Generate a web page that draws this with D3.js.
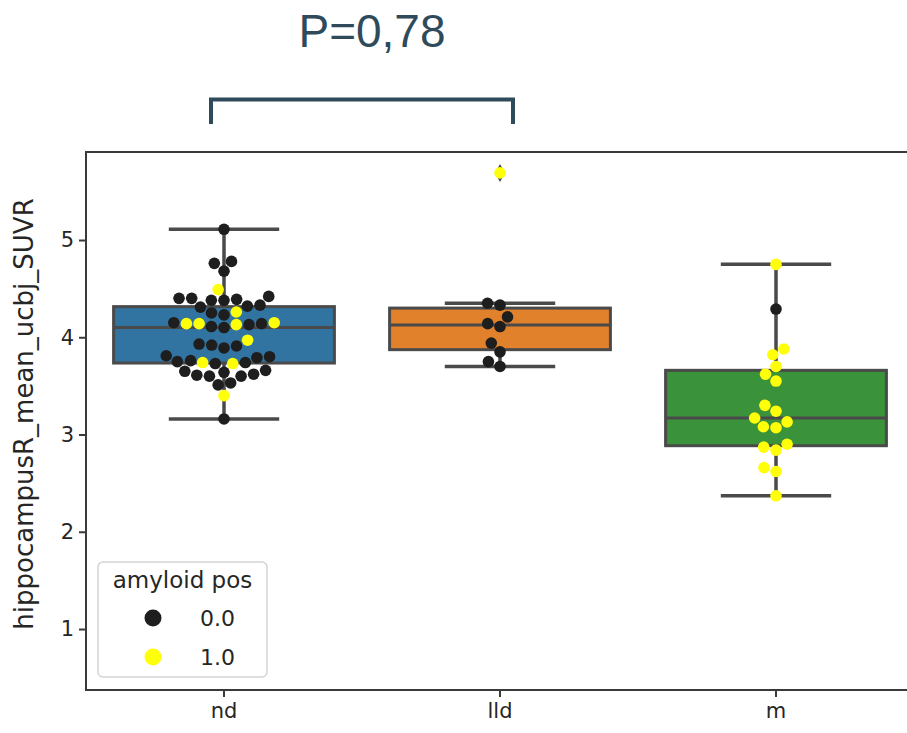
<!DOCTYPE html>
<html>
<head>
<meta charset="utf-8">
<script src="https://cdn.jsdelivr.net/npm/d3@7"></script>
<style>
  body { margin: 0; background: #ffffff; }
  svg { display: block; }
</style>
</head>
<body>
<svg id="chart" width="907" height="733"></svg>
<script>
// Groups on the x axis
const categories = ["nd", "lld", "m"];

// hippocampusR_mean_ucbj_SUVR per subject, with amyloid status (0 / 1)
const ndValues = [5.11, 4.78, 4.76, 4.68, 4.49, 4.42, 4.40, 4.40, 4.39, 4.38, 4.38, 4.33, 4.32, 4.31,
                  4.26, 4.25, 4.23, 4.15, 4.14, 4.14, 4.13, 4.14, 4.15, 4.13, 4.11, 4.10, 3.97, 3.93,
                  3.92, 3.91, 3.89, 3.81, 3.80, 3.79, 3.76, 3.74, 3.74, 3.73, 3.73, 3.75, 3.66, 3.65,
                  3.64, 3.62, 3.61, 3.60, 3.60, 3.53, 3.51, 3.40, 3.16];
const ndAmyloid = [0, 0, 0, 0, 1, 0, 0, 0, 0, 0, 0, 0, 0, 0,
                   1, 0, 0, 1, 1, 0, 1, 1, 0, 0, 0, 0, 1, 0,
                   0, 0, 0, 0, 0, 0, 0, 1, 0, 0, 1, 0, 0, 0,
                   0, 0, 0, 0, 0, 0, 0, 1, 0];

const lldValues = [5.69, 4.35, 4.33, 4.21, 4.14, 4.11, 3.94, 3.85, 3.75, 3.70];
const lldAmyloid = [1, 0, 0, 0, 0, 0, 0, 0, 0, 0];

const mValues = [4.75, 4.29, 3.88, 3.82, 3.70, 3.62, 3.55, 3.30, 3.24, 3.17, 3.13, 3.08, 3.07,
                 2.90, 2.87, 2.84, 2.66, 2.62, 2.37];
const mAmyloid = [1, 0, 1, 1, 1, 1, 1, 1, 1, 1, 1, 1, 1,
                  1, 1, 1, 1, 1, 1];

const yTicks = [1, 2, 3, 4, 5];
const legendTitle = "amyloid pos";
const legendLabels = ["0.0", "1.0"];
const pValueLabel = "P=0,78";

// ---- layout ----
const margin = { left: 86, top: 152, right: 914, bottom: 690 };
const boxColors = ["#3274a1", "#e1812c", "#3a923a"];
const lineColor = "#4a4a4a";
const pointColors = ["#1e1e1e", "#ffff0a"];
const annColor = "#2f4b5b";
const pointR = 5.8;

const svg = d3.select("#chart");

const x = d3.scaleBand().domain(categories).range([margin.left, margin.right]);
const y = d3.scaleLinear().domain([0.373, 5.905]).range([margin.bottom, margin.top]);
const cx = c => x(c) + x.bandwidth() / 2;

const groups = [
  { cat: "nd", values: ndValues, amyloid: ndAmyloid },
  { cat: "lld", values: lldValues, amyloid: lldAmyloid },
  { cat: "m", values: mValues, amyloid: mAmyloid }
];

// Tukey box statistics with 1.5 IQR whiskers
function boxStats(vals) {
  const s = vals.slice().sort(d3.ascending);
  const q1 = d3.quantileSorted(s, 0.25);
  const med = d3.quantileSorted(s, 0.5);
  const q3 = d3.quantileSorted(s, 0.75);
  const iqr = q3 - q1;
  const lo = d3.min(s.filter(v => v >= q1 - 1.5 * iqr));
  const hi = d3.max(s.filter(v => v <= q3 + 1.5 * iqr));
  const fliers = s.filter(v => v < lo || v > hi);
  return { q1, med, q3, lo, hi, fliers };
}

// Beeswarm layout: points in ascending order, each placed at the
// non-overlapping candidate closest to the group centre.
function swarm(vals, status, mid, r) {
  const pts = vals.map((v, i) => ({ v, s: status[i], y: y(v), r }))
    .sort((a, b) => d3.ascending(a.v, b.v));
  const placed = [];
  pts.forEach((p, k) => {
    if (k === 0) { p.x = mid; placed.push(p); return; }
    const neigh = placed.filter(q => Math.abs(q.y - p.y) <= q.r + p.r);
    const cands = [mid];
    let leftFirst = true;
    neigh.forEach(q => {
      const dy = p.y - q.y;
      const dx = Math.sqrt(Math.max((p.r + q.r) ** 2 - dy * dy, 0)) * 1.05;
      if (leftFirst) cands.push(q.x - dx, q.x + dx); else cands.push(q.x + dx, q.x - dx);
      leftFirst = !leftFirst;
    });
    const order = cands.map((c, i) => ({ c, i }))
      .sort((a, b) => (Math.abs(a.c - mid) - Math.abs(b.c - mid)) || (a.i - b.i));
    for (const o of order) {
      const ok = neigh.every(q => (q.x - o.c) ** 2 + (q.y - p.y) ** 2 >= (q.r + p.r) ** 2 - 1e-6);
      if (ok) { p.x = o.c; break; }
    }
    if (p.x === undefined) p.x = mid;
    placed.push(p);
  });
  return placed;
}

// ---- axes frame ----
const yAxis = d3.axisLeft(y).tickValues(yTicks).tickSize(7).tickPadding(5).tickFormat(d3.format("d"));
const gy = svg.append("g").attr("transform", `translate(${margin.left},0)`).call(yAxis);
const xAxis = d3.axisBottom(x).tickSize(7).tickPadding(6);
const gx = svg.append("g").attr("transform", `translate(0,${margin.bottom})`).call(xAxis);
[gx, gy].forEach(g => {
  g.select(".domain").remove();
  g.selectAll(".tick line").attr("stroke", "#3a3a3a").attr("stroke-width", 2);
  g.selectAll(".tick text")
    .attr("fill", "#262626")
    .style("font-family", "'DejaVu Sans', sans-serif")
    .style("font-size", "21px");
});

// ---- boxes ----
const bw = x.bandwidth() * 0.8;
const gBox = svg.append("g");
groups.forEach((g, i) => {
  const st = boxStats(g.values);
  const c = cx(g.cat);
  const gg = gBox.append("g");
  // whiskers
  gg.append("line").attr("x1", c).attr("x2", c).attr("y1", y(st.q3)).attr("y2", y(st.hi))
    .attr("stroke", lineColor).attr("stroke-width", 3.5);
  gg.append("line").attr("x1", c).attr("x2", c).attr("y1", y(st.q1)).attr("y2", y(st.lo))
    .attr("stroke", lineColor).attr("stroke-width", 3.5);
  // caps
  [st.hi, st.lo].forEach(v => {
    gg.append("line").attr("x1", c - bw / 4).attr("x2", c + bw / 4).attr("y1", y(v)).attr("y2", y(v))
      .attr("stroke", lineColor).attr("stroke-width", 3.5);
  });
  // box
  gg.append("rect").attr("x", c - bw / 2).attr("width", bw)
    .attr("y", y(st.q3)).attr("height", y(st.q1) - y(st.q3))
    .attr("fill", boxColors[i]).attr("stroke", lineColor).attr("stroke-width", 3);
  gg.append("line").attr("x1", c - bw / 2).attr("x2", c + bw / 2).attr("y1", y(st.med)).attr("y2", y(st.med))
    .attr("stroke", lineColor).attr("stroke-width", 3);
  // outliers (thin diamonds)
  st.fliers.forEach(v => {
    gg.append("path")
      .attr("d", `M${c},${y(v) - 9} L${c + 5},${y(v)} L${c},${y(v) + 9} L${c - 5},${y(v)} Z`)
      .attr("fill", lineColor);
  });
});

// ---- swarm points ----
const gPts = svg.append("g");
groups.forEach(g => {
  const pts = swarm(g.values, g.amyloid, cx(g.cat), pointR * 1.04);
  gPts.selectAll(null).data(pts).enter().append("circle")
    .attr("cx", d => d.x).attr("cy", d => d.y).attr("r", pointR)
    .attr("fill", d => pointColors[d.s]);
});

// ---- frame (left, top, bottom spines; right lies past the edge) ----
svg.append("rect")
  .attr("x", margin.left).attr("y", margin.top)
  .attr("width", margin.right - margin.left).attr("height", margin.bottom - margin.top)
  .attr("fill", "none").attr("stroke", "#3a3a3a").attr("stroke-width", 2);

// ---- y axis title ----
svg.append("text")
  .attr("transform", `translate(33,${(margin.top + margin.bottom) / 2 - 7}) rotate(-90)`)
  .attr("text-anchor", "middle")
  .attr("fill", "#262626")
  .style("font-family", "'DejaVu Sans', sans-serif")
  .style("font-size", "26px")
  .text("hippocampusR_mean_ucbj_SUVR");

// ---- legend ----
const lg = svg.append("g").attr("transform", `translate(${margin.left + 12},${margin.bottom - 128})`);
lg.append("rect").attr("x", 0).attr("y", 0).attr("width", 169).attr("height", 115).attr("rx", 5)
  .attr("fill", "#ffffff").attr("fill-opacity", 0.8).attr("stroke", "#d4d4d4").attr("stroke-width", 1.5);
lg.append("text").attr("x", 84.5).attr("y", 26).attr("text-anchor", "middle")
  .attr("fill", "#262626").style("font-family", "'DejaVu Sans', sans-serif").style("font-size", "23px")
  .text(legendTitle);
legendLabels.forEach((lab, i) => {
  const ly = 56 + i * 39;
  lg.append("circle").attr("cx", 55).attr("cy", ly).attr("r", 8.5).attr("fill", pointColors[i]);
  lg.append("text").attr("x", 102).attr("y", ly + 8).attr("fill", "#262626")
    .style("font-family", "'DejaVu Sans', sans-serif").style("font-size", "22px").text(lab);
});

// ---- significance bracket between nd and lld ----
const bx1 = cx("nd") - 13, bx2 = cx("lld") + 13;
svg.append("path")
  .attr("d", `M${bx1},124 V99.5 H${bx2} V124`)
  .attr("fill", "none").attr("stroke", annColor).attr("stroke-width", 4);
svg.append("text")
  .attr("x", (bx1 + bx2) / 2 + 10).attr("y", 47).attr("text-anchor", "middle")
  .attr("fill", annColor)
  .style("font-family", "'Liberation Sans', Arial, sans-serif").style("font-size", "46px")
  .text(pValueLabel);
</script>
</body>
</html>
